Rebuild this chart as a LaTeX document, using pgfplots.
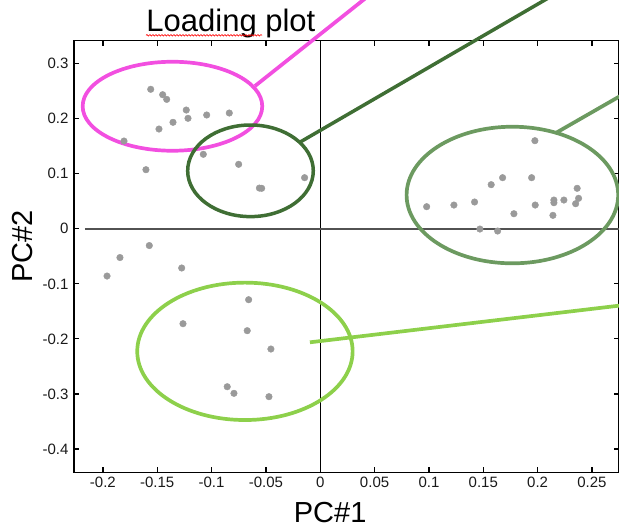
\documentclass[border=0pt]{standalone}
\usepackage{pgfplots}
\pgfplotsset{compat=1.18}
\usepackage{fontspec}
\setmainfont{Liberation Sans}
\usetikzlibrary{decorations.pathmorphing}

\definecolor{pinkE}{HTML}{F24FE0}
\definecolor{dgreenE}{HTML}{3F6E34}
\definecolor{mgreenE}{HTML}{6C9A60}
\definecolor{lgreenE}{HTML}{8DD04B}
\definecolor{dotc}{HTML}{9A9A9A}

\begin{document}
\begin{tikzpicture}
\begin{axis}[
  at={(0,0)}, anchor=south west,
  scale only axis, width=545pt, height=431.6pt,
  xmin=-0.2266, xmax=0.2749, ymin=-0.4424, ymax=0.3418,
  xtick={-0.2,-0.15,-0.1,-0.05,0,0.05,0.1,0.15,0.2,0.25},
  xticklabels={-0.2,-0.15,-0.1,-0.05,0,0.05,0.1,0.15,0.2,0.25},
  ytick={-0.4,-0.3,-0.2,-0.1,0,0.1,0.2,0.3},
  yticklabels={-0.4,-0.3,-0.2,-0.1,0,0.1,0.2,0.3},
  tick align=inside,
  major tick length=5pt,
  every tick/.style={black, line width=1.2pt},
  axis line style={black, line width=1.6pt},
  tick label style={font=\fontsize{15}{18}\selectfont, text=black!90},
  xticklabel style={yshift=-1pt},
  yticklabel style={xshift=-2pt},
  xlabel={PC\#1}, ylabel={PC\#2},
  label style={font=\fontsize{29}{34}\selectfont},
  xlabel style={at={(rel axis cs:0.47,0)}, anchor=base, yshift=-49.7pt},
  ylabel style={at={(rel axis cs:0,0.524)}, anchor=center, rotate=0, yshift=51.5pt},
  clip=false,
]
% zero lines
\addplot[black, line width=1.4pt] coordinates {(0,-0.4424) (0,0.3418)};
\addplot[black!68, line width=2pt] coordinates {(-0.2165,0) (0.2749,0)};

% loadings
\addplot[only marks, mark=*, mark size=3.3pt, color=dotc, mark options={draw=dotc, fill=dotc}] coordinates {
(-0.156,0.2535) (-0.145,0.2437) (-0.1413,0.2352) (-0.1233,0.2158) (-0.1217,0.2008)
(-0.1355,0.1935) (-0.1484,0.1813) (-0.1045,0.2068) (-0.0837,0.2104) (-0.1806,0.1595)
(-0.1604,0.1074) (-0.1076,0.1354) (-0.0751,0.1172) (-0.0539,0.0736) (-0.0560,0.0740)
(-0.0144,0.0929)
(-0.1573,-0.0304) (-0.1843,-0.0522) (-0.1962,-0.0858) (-0.1275,-0.0712)
(-0.0659,-0.1288) (-0.1263,-0.1724) (-0.0672,-0.1851) (-0.0454,-0.2184)
(-0.0856,-0.2869) (-0.0794,-0.2989) (-0.0472,-0.3050)
(0.1975,0.1601) (0.1678,0.0929) (0.1945,0.0929) (0.1573,0.0802) (0.2364,0.0736)
(0.0979,0.0402) (0.1230,0.0432) (0.1420,0.0487) (0.1978,0.0432) (0.2150,0.0523)
(0.2150,0.0474) (0.2242,0.0523) (0.2377,0.0554) (0.2350,0.0456) (0.1782,0.0274)
(0.2141,0.0245) (0.1469,-0.0004) (0.1632,-0.0040)
};

% ellipses
\draw[pinkE, line width=3.7pt] (axis cs:-0.1360,0.2227) ellipse [x radius=89.8pt, y radius=44.5pt];
\draw[dgreenE, line width=3.5pt] (axis cs:-0.0642,0.1054) ellipse [x radius=62.8pt, y radius=45.8pt];
\draw[mgreenE, line width=3.7pt] (axis cs:0.1768,0.0614) ellipse [x radius=105.8pt, y radius=68.3pt];
\draw[lgreenE, line width=3.7pt] (axis cs:-0.0693,-0.2226) ellipse [x radius=107.7pt, y radius=68.7pt];

% leader lines
\addplot[pinkE, line width=3.7pt] coordinates {(-0.0601,0.2594) (0.0917,0.4975)};
\addplot[dgreenE, line width=3.5pt] coordinates {(-0.0180,0.1582) (0.2573,0.4738)};
\addplot[mgreenE, line width=3.7pt] coordinates {(0.2175,0.1750) (0.3033,0.2722)};
\addplot[lgreenE, line width=3.7pt] coordinates {(-0.0095,-0.2062) (0.3033,-0.1330)};

\node[font=\fontsize{31}{37}\selectfont, anchor=base] at (rel axis cs:0.288,1) [yshift=9pt] {Loading plot};
\end{axis}
\draw[red, line width=0.6pt, decorate, decoration={snake, amplitude=0.8pt, segment length=3pt}] (72pt,437pt) -- (188pt,437pt);
\pgfresetboundingbox
\path[use as bounding box] (-74pt,-55.7pt) rectangle (545pt,472.3pt);
\end{tikzpicture}
\end{document}
